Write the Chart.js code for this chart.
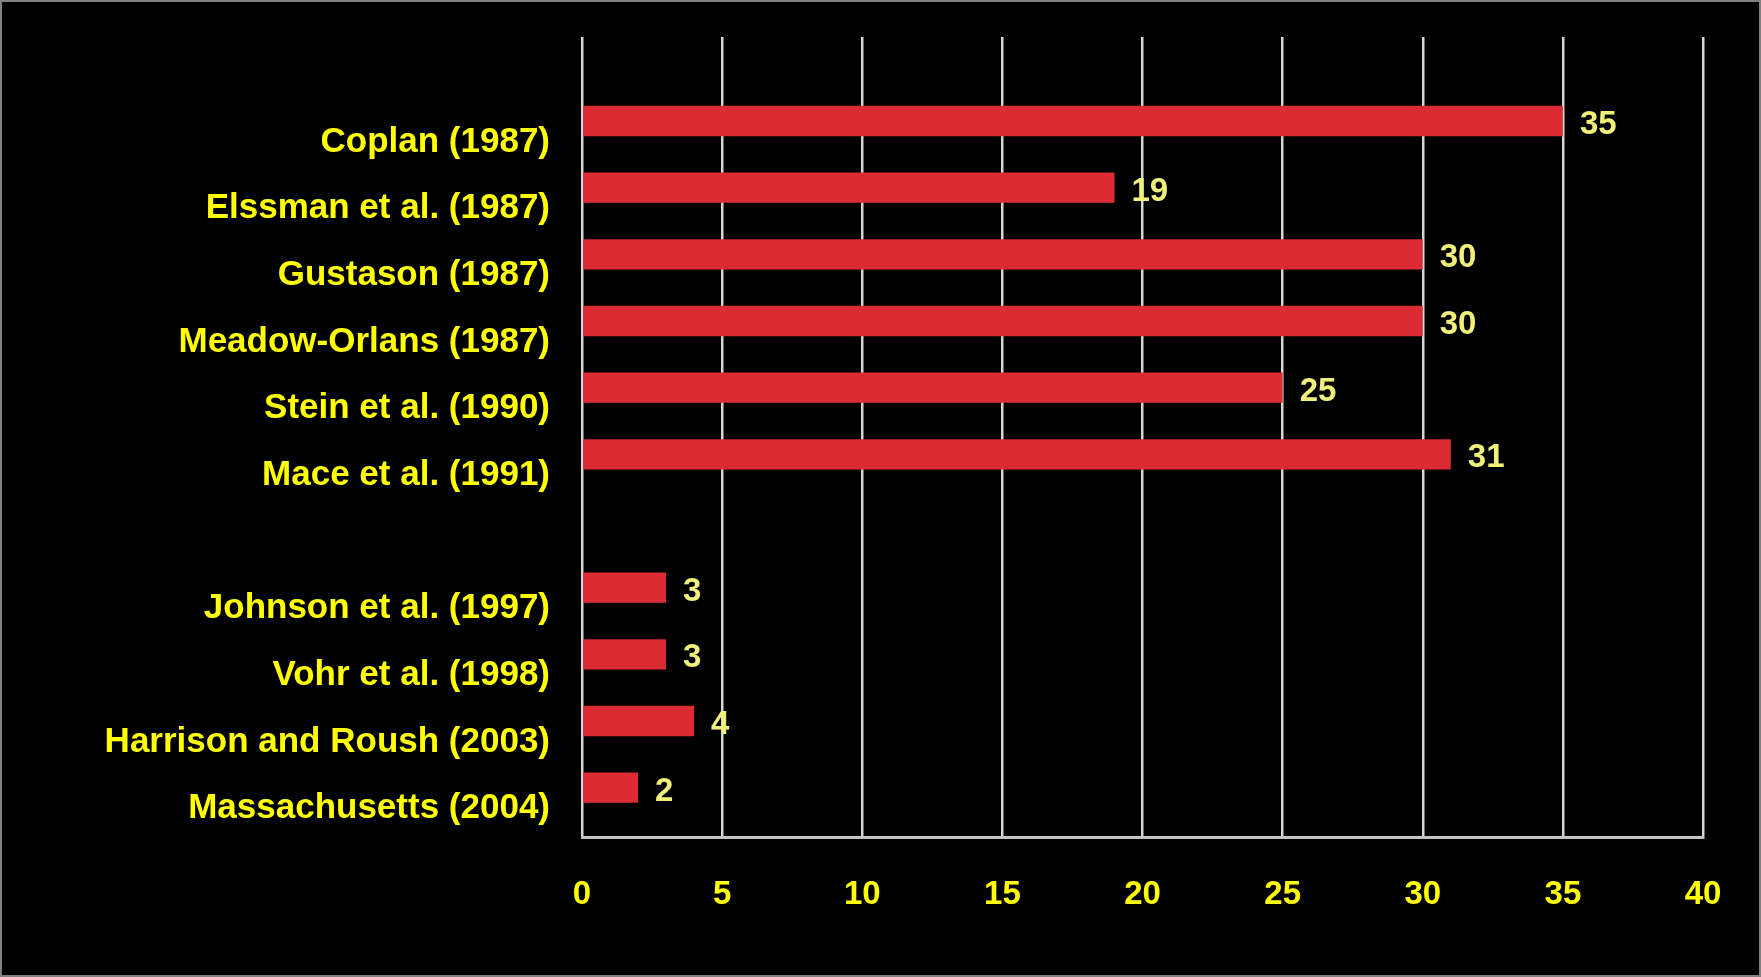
<!DOCTYPE html>
<html>
<head>
<meta charset="utf-8">
<script src="https://cdn.jsdelivr.net/npm/chart.js@4/dist/chart.umd.min.js"></script>
<style>
  html, body { margin: 0; padding: 0; background: #000; }
  #wrap { width: 1761px; height: 977px; position: relative; background: #000; }
</style>
</head>
<body>
<div id="wrap"><canvas id="chart"></canvas></div>
<script>
// studies (blank entries are the empty rows in the original)
const studies = ['', 'Coplan (1987)', 'Elssman et al. (1987)', 'Gustason (1987)', 'Meadow-Orlans (1987)',
  'Stein et al. (1990)', 'Mace et al. (1991)', '', 'Johnson et al. (1997)', 'Vohr et al. (1998)',
  'Harrison and Roush (2003)', 'Massachusetts (2004)']
const values = [null, 35, 19, 30, 30, 25, 31, null, 3, 3, 4, 2]
// second (empty) series of the original clustered chart
const emptySeries = studies.map(() => null)
const xTicks = [0, 5, 10, 15, 20, 25, 30, 35, 40]

const yellow = '#ffff00'
const font = 'Liberation Sans, Arial, sans-serif'

// draws the numbers at the end of each bar
const valueLabels = {
  id: 'valueLabels',
  afterDatasetsDraw(chart) {
    const ctx = chart.ctx
    const meta = chart.getDatasetMeta(0)
    ctx.save()
    ctx.font = 'bold 33px ' + font
    ctx.fillStyle = '#f0f07a'
    ctx.textAlign = 'left'
    ctx.textBaseline = 'middle'
    meta.data.forEach((bar, i) => {
      if (values[i] == null) return
      ctx.fillText(values[i], bar.x + 17, bar.y + 4)
    })
    ctx.restore()
  }
}

const frame = {
  id: 'frame',
  afterDraw(chart) {
    const ctx = chart.ctx
    ctx.save()
    ctx.strokeStyle = '#808080'
    ctx.lineWidth = 2
    ctx.strokeRect(1, 1, chart.width - 2, chart.height - 2)
    ctx.restore()
  }
}

new Chart(document.getElementById('chart'), {
  type: 'bar',
  data: {
    labels: studies,
    datasets: [{
      data: values,
      backgroundColor: '#dc2b33',
      borderWidth: 0,
      categoryPercentage: 0.96,
      barPercentage: 0.95
    }, {
      data: emptySeries,
      backgroundColor: 'transparent',
      categoryPercentage: 0.96,
      barPercentage: 0.95
    }]
  },
  options: {
    indexAxis: 'y',
    responsive: true,
    maintainAspectRatio: false,
    animation: false,
    layout: { padding: { top: 37, right: 58, bottom: 0, left: 0 } },
    plugins: { legend: { display: false }, tooltip: { enabled: false } },
    scales: {
      x: {
        min: 0,
        max: 40,
        afterBuildTicks(scale) { scale.ticks = xTicks.map(v => ({ value: v })) },
        afterFit(scale) { scale.height = 140 },
        grid: { color: '#d6d6d6', lineWidth: 2.5, drawTicks: false },
        border: { color: '#c4c4c4', width: 3 },
        ticks: { color: yellow, padding: 38, font: { family: font, size: 33, weight: 'bold' } }
      },
      y: {
        afterFit(scale) {
          scale.width = 582
          scale.paddingTop = 0
          scale.paddingBottom = 0
        },
        grid: { display: false, drawTicks: false },
        border: { display: false },
        ticks: { color: yellow, padding: 32, labelOffset: 5, autoSkip: false, font: { family: font, size: 35, weight: 'bold' } }
      }
    }
  },
  plugins: [valueLabels, frame]
})
</script>
</body>
</html>
